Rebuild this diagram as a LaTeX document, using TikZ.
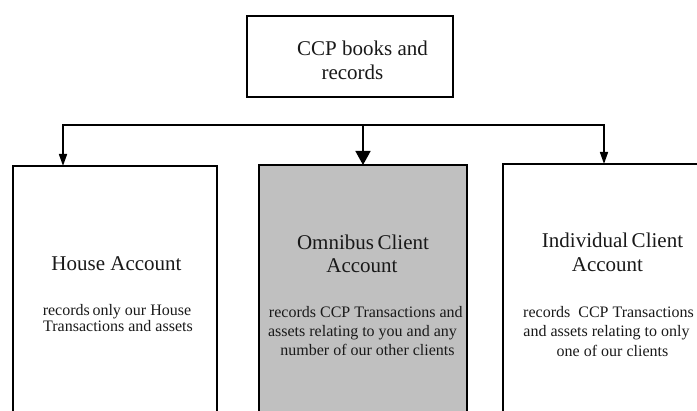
\documentclass[tikz,border=0pt]{standalone}
\usepackage{fontspec}
\setmainfont{Liberation Serif}
\usetikzlibrary{arrows.meta}
\definecolor{boxgray}{HTML}{C0C0C0}
\begin{document}
\begin{tikzpicture}[x=1pt,y=-1pt,
  box/.style={draw=black, line width=2pt, rectangle, inner sep=0pt, outer sep=0pt, anchor=north west},
  big/.style={font=\fontsize{21}{24}\selectfont, inner sep=0pt, anchor=base, text=black!90},
  small/.style={font=\fontsize{16}{19}\selectfont, inner sep=0pt, anchor=base, text=black!90},
  bus/.style={line width=1.6pt, line cap=rect},
  tipS/.style={-{Triangle[width=8pt,length=12pt]}, line width=1.6pt},
  tipL/.style={-{Triangle[width=15pt,length=14pt]}, line width=1.6pt}]
\useasboundingbox (0,0) rectangle (697,411);

% boxes
\node[box, minimum width=206pt, minimum height=81pt] (top) at (247,16) {};
\node[box, minimum width=204pt, minimum height=280pt] (house) at (13,166) {};
\node[box, fill=boxgray, minimum width=208pt, minimum height=280pt] (omni) at (259,165) {};
\node[box, minimum width=260pt, minimum height=280pt] (indiv) at (503,164) {};

% texts
\node[big] (topa) at (362.5,56) {CCP books and};
\node[big] (topb) at (352.5,80) {records};

\node[big] (housea) at (116.5,271) {House Account};
\node[small] (houseb) at (117,316) {records\,only our House};
\node[small] (housec) at (118,332) {Transactions and assets};

\node[big] (omnia) at (363,250) {Omnibus\,Client};
\node[big] (omnib) at (362,273) {Account};
\node[small] (omnic) at (365.8,318) {records CCP Transactions and};
\node[small] (omnid) at (362.5,337) {assets relating to you and any};
\node[small] (omnie) at (367.5,356) {number of our other clients};

\node[big] (indiva) at (612.5,248) {Individual\,Client};
\node[big] (indivb) at (607.5,272) {Account};
\node[small] (indivc) at (608.5,318) {records~~CCP Transactions};
\node[small] (indivd) at (606.5,337) {and assets relating to only};
\node[small] (indive) at (612.5,357) {one of our clients};

% connectors
\coordinate (busL) at (63,125);
\coordinate (busR) at (604,125);
\coordinate (busM) at (omni.north |- busL);
\draw[bus] (busL) -- (busR);
\draw[tipS] (busL) -- (busL |- house.north);
\draw[tipL] (busM) -- (omni.north);
\draw[tipS] (busR) -- (busR |- indiv.north);
\end{tikzpicture}
\end{document}
